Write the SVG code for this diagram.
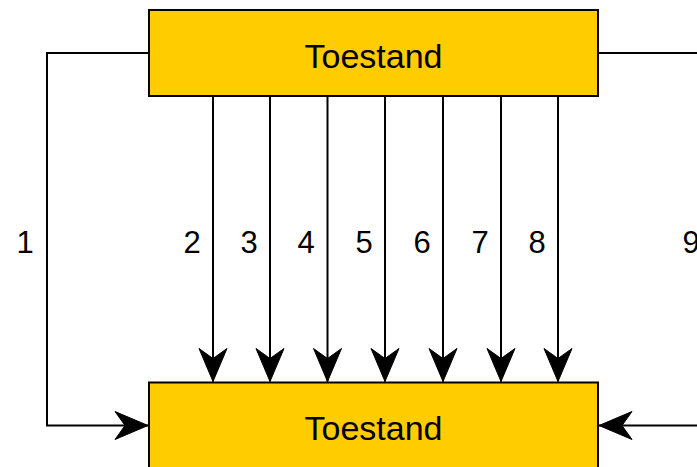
<svg xmlns="http://www.w3.org/2000/svg" width="697" height="467" viewBox="0 0 697 467">
<style>
.box{fill:#FFCC00;stroke:#000;stroke-width:2}
.t{font-family:"Liberation Sans",Arial,sans-serif;font-size:34px;fill:#000;text-anchor:middle}
.c{fill:none;stroke:#000;stroke-width:2}
.l{font-family:"Liberation Sans",Arial,sans-serif;font-size:31px;fill:#000;text-anchor:middle}
</style>
<defs>
<marker id="arr" markerUnits="userSpaceOnUse" markerWidth="40" markerHeight="34" refX="34" refY="15" orient="auto" viewBox="0 0 40 30">
<path d="M34,15 L1,1 L11,15 L1,29 Z" fill="#000" stroke="#000" stroke-width="1"/>
</marker>
</defs>
<rect width="697" height="467" fill="#fff"/>
<g id="connectors">
<path class="c" d="M149,53 H47 V425.5 H148" marker-end="url(#arr)"/>
<path class="c" d="M213,96 V381.5" marker-end="url(#arr)"/>
<path class="c" d="M270,96 V381.5" marker-end="url(#arr)"/>
<path class="c" d="M327.5,96 V381.5" marker-end="url(#arr)"/>
<path class="c" d="M385,96 V381.5" marker-end="url(#arr)"/>
<path class="c" d="M443,96 V381.5" marker-end="url(#arr)"/>
<path class="c" d="M501,96 V381.5" marker-end="url(#arr)"/>
<path class="c" d="M558,96 V381.5" marker-end="url(#arr)"/>
<path class="c" d="M598,53 H712 V425.5 H599" marker-end="url(#arr)"/>
<text class="l" x="25" y="253">1</text>
<text class="l" x="192" y="253">2</text>
<text class="l" x="249" y="253">3</text>
<text class="l" x="306" y="253">4</text>
<text class="l" x="364" y="253">5</text>
<text class="l" x="422" y="253">6</text>
<text class="l" x="480" y="253">7</text>
<text class="l" x="537" y="253">8</text>
<text class="l" x="691" y="253">9</text>
</g>
<g id="top">
<rect class="box" x="149" y="10" width="449" height="86"/>
<text class="t" x="373.5" y="67.5">Toestand</text>
</g>
<g id="bottom">
<rect class="box" x="149" y="382.5" width="449" height="86"/>
<text class="t" x="373.5" y="440">Toestand</text>
</g>
</svg>
